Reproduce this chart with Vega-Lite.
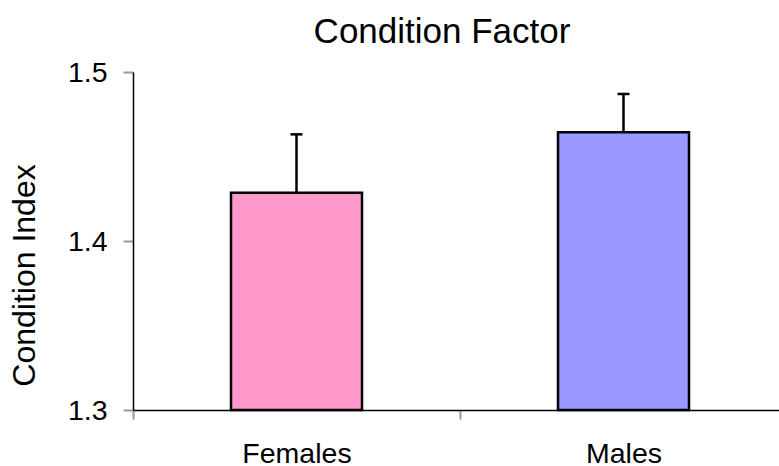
{
  "$schema": "https://vega.github.io/schema/vega-lite/v6.json",
  "autosize": {"type": "none"},
  "padding": {"left": 133, "top": 72, "right": 0, "bottom": 56},
  "width": 646,
  "height": 338,
  "background": "white",
  "title": {
    "text": "Condition Factor",
    "font": "Liberation Sans",
    "fontSize": 35,
    "fontWeight": "normal",
    "color": "black",
    "anchor": "middle",
    "frame": "group",
    "baseline": "alphabetic",
    "offset": 15,
    "dx": -14,
    "dy": 35
  },
  "config": {
    "view": {"stroke": null},
    "font": "Liberation Sans"
  },
  "data": {
    "values": [
      {"Group": "Females", "Mean": 1.4286, "Upper": 1.4631},
      {"Group": "Males", "Mean": 1.4643, "Upper": 1.487}
    ]
  },
  "encoding": {
    "x": {
      "field": "Group",
      "type": "nominal",
      "sort": null,
      "scale": {"range": [0, 654], "paddingInner": 0, "paddingOuter": 0},
      "axis": {
        "title": null,
        "labelAngle": 0,
        "labelFont": "Liberation Sans",
        "labelFontSize": 28.5,
        "labelColor": "black",
        "labelPadding": 20,
        "tickBand": "extent",
        "tickColor": "#999999",
        "tickWidth": 2,
        "tickSize": 9,
        "domainColor": "black",
        "domainWidth": 1.5,
        "grid": false
      }
    }
  },
  "layer": [
    {
      "mark": {"type": "bar", "width": 131, "stroke": "black", "strokeWidth": 2.5},
      "encoding": {
        "y": {
          "field": "Mean",
          "type": "quantitative",
          "scale": {"domain": [1.3, 1.5], "zero": false, "nice": false},
          "axis": {
            "title": "Condition Index",
            "titleFont": "Liberation Sans",
            "titleFontSize": 32,
            "titleFontWeight": "normal",
            "titleColor": "black",
            "titleBaseline": "alphabetic",
            "titleX": -99,
            "titleY": 203,
            "values": [1.3, 1.4, 1.5],
            "format": ".1f",
            "labelFont": "Liberation Sans",
            "labelFontSize": 28.5,
            "labelColor": "black",
            "labelPadding": 16,
            "tickColor": "#999999",
            "tickWidth": 2,
            "tickSize": 10,
            "domainColor": "black",
            "domainWidth": 1.5,
            "grid": false
          }
        },
        "y2": {"datum": 1.3},
        "fill": {
          "field": "Group",
          "type": "nominal",
          "scale": {"domain": ["Females", "Males"], "range": ["#FF99CC", "#9999FF"]},
          "legend": null
        }
      }
    },
    {
      "mark": {"type": "rule", "stroke": "black", "strokeWidth": 2.5},
      "encoding": {
        "y": {"field": "Upper", "type": "quantitative"},
        "y2": {"field": "Mean"}
      }
    },
    {
      "mark": {"type": "tick", "color": "black", "size": 12, "thickness": 2.5, "opacity": 1},
      "encoding": {
        "y": {"field": "Upper", "type": "quantitative"}
      }
    }
  ]
}
